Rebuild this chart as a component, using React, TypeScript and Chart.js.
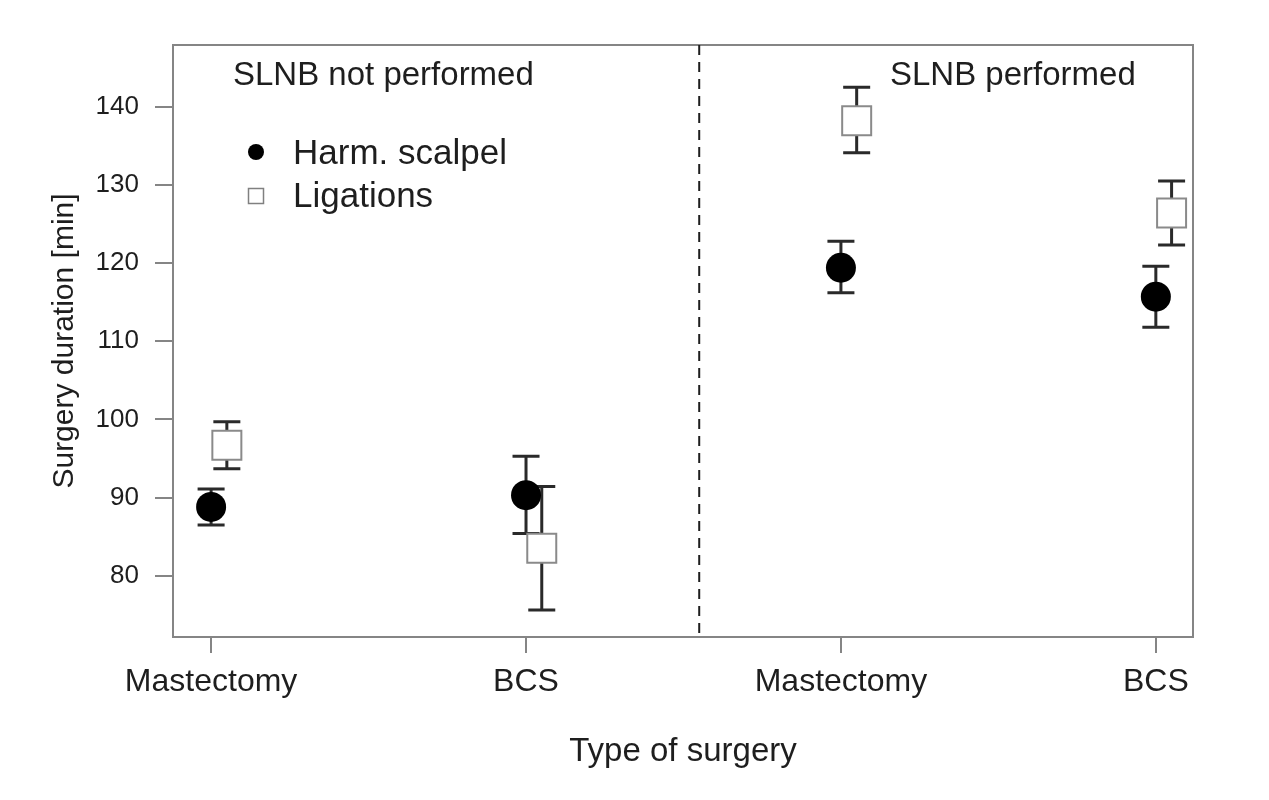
import { useEffect, useRef } from "react"
import { Chart, registerables, type Plugin } from "chart.js"

Chart.register(...registerables)

const categories = ["Mastectomy", "BCS", "Mastectomy", "BCS"]
const catPositions = [1, 2, 3, 4]
const yTicks = [80, 90, 100, 110, 120, 130, 140]

const harmMean = [88.8, 90.3, 119.4, 115.7]
const harmLow = [86.5, 85.4, 116.2, 111.8]
const harmHigh = [91.1, 95.3, 122.8, 119.6]

const ligMean = [96.7, 83.5, 138.2, 126.4]
const ligLow = [93.7, 75.6, 134.1, 122.3]
const ligHigh = [99.7, 91.4, 142.5, 130.5]

const panelTitles = ["SLNB not performed", "SLNB performed"]
const seriesNames = ["Harm. scalpel", "Ligations"]

const ligOffset = 0.05
const dividerAt = 2.55
const xMin = 0.879
const xMax = 4.118
const yMin = 72.16
const yMax = 147.9

const FONT = "'Liberation Sans', Arial, Helvetica, sans-serif"
const INK = "#1e1e1e"
const FRAME = "#858585"

const overlayPlugin: Plugin = {
  id: "overlay",
  beforeDatasetsDraw(chart) {
    const { ctx, chartArea } = chart
    const xs = chart.scales.x
    const ys = chart.scales.y
    ctx.save()

    // box round the plot
    ctx.strokeStyle = FRAME
    ctx.lineWidth = 2
    ctx.strokeRect(chartArea.left, chartArea.top, chartArea.right - chartArea.left, chartArea.bottom - chartArea.top)

    // divider between panels
    const dx = xs.getPixelForValue(dividerAt)
    ctx.strokeStyle = INK
    ctx.setLineDash([10, 7])
    ctx.beginPath()
    ctx.moveTo(dx, chartArea.top)
    ctx.lineTo(dx, chartArea.bottom)
    ctx.stroke()
    ctx.setLineDash([])

    // error bars
    const drawBar = (x: number, lo: number, hi: number) => {
      const px = xs.getPixelForValue(x)
      const pLo = ys.getPixelForValue(lo)
      const pHi = ys.getPixelForValue(hi)
      const cap = 13.5
      ctx.strokeStyle = "#2a2a2a"
      ctx.lineWidth = 3
      ctx.beginPath()
      ctx.moveTo(px, pLo)
      ctx.lineTo(px, pHi)
      ctx.moveTo(px - cap, pLo)
      ctx.lineTo(px + cap, pLo)
      ctx.moveTo(px - cap, pHi)
      ctx.lineTo(px + cap, pHi)
      ctx.stroke()
    }
    catPositions.forEach((p, i) => {
      drawBar(p, harmLow[i], harmHigh[i])
      drawBar(p + ligOffset, ligLow[i], ligHigh[i])
    })
    ctx.restore()
  },
  afterDraw(chart) {
    const { ctx, chartArea } = chart
    ctx.save()
    ctx.fillStyle = INK
    ctx.textBaseline = "alphabetic"
    ctx.textAlign = "left"

    // panel titles
    ctx.font = `33px ${FONT}`
    ctx.fillText(panelTitles[0], chartArea.left + 60, chartArea.top + 40)
    ctx.fillText(panelTitles[1], chartArea.left + 717, chartArea.top + 40)

    // legend
    const mx = chartArea.left + 83
    const tx = chartArea.left + 120
    ctx.beginPath()
    ctx.arc(mx, chartArea.top + 107, 8, 0, Math.PI * 2)
    ctx.fillStyle = "#000"
    ctx.fill()
    ctx.fillStyle = "#fff"
    ctx.fillRect(mx - 7.5, chartArea.top + 143.5, 15, 15)
    ctx.strokeStyle = "#808080"
    ctx.lineWidth = 1.5
    ctx.strokeRect(mx - 7.5, chartArea.top + 143.5, 15, 15)

    ctx.fillStyle = INK
    ctx.font = `35px ${FONT}`
    ctx.fillText(seriesNames[0], tx, chartArea.top + 119)
    ctx.fillText(seriesNames[1], tx, chartArea.top + 162)
    ctx.restore()
  },
}

export default function App() {
  const canvasRef = useRef<HTMLCanvasElement>(null)
  const chartRef = useRef<Chart | null>(null)

  useEffect(() => {
    document.body.style.margin = "0"
    if (!canvasRef.current) return
    if (chartRef.current) chartRef.current.destroy()

    chartRef.current = new Chart(canvasRef.current, {
      type: "scatter",
      data: {
        datasets: [
          {
            label: seriesNames[0],
            data: catPositions.map((p, i) => ({ x: p, y: harmMean[i] })),
            pointStyle: "circle",
            pointRadius: 15,
            pointHoverRadius: 15,
            backgroundColor: "#000",
            borderWidth: 0,
          },
          {
            label: seriesNames[1],
            data: catPositions.map((p, i) => ({ x: p + ligOffset, y: ligMean[i] })),
            pointStyle: "rect",
            pointRadius: 20.5,
            pointHoverRadius: 20.5,
            backgroundColor: "#fff",
            borderColor: "#8a8a8a",
            borderWidth: 2,
          },
        ],
      },
      options: {
        responsive: false,
        animation: false,
        devicePixelRatio: 1,
        layout: { padding: { top: 45, right: 76, left: 0, bottom: 0 } },
        plugins: {
          legend: { display: false },
          tooltip: { enabled: false },
        },
        scales: {
          x: {
            type: "linear",
            position: "bottom",
            min: xMin,
            max: xMax,
            afterBuildTicks: (s) => {
              s.ticks = catPositions.map((v) => ({ value: v }))
            },
            afterFit: (s) => {
              s.height = 163
              s.paddingLeft = 0
              s.paddingRight = 0
            },
            ticks: {
              autoSkip: false,
              maxRotation: 0,
              padding: 10,
              color: INK,
              font: { family: FONT, size: 32 },
              callback: (v) => categories[catPositions.indexOf(Number(v))] ?? "",
            },
            grid: { display: true, drawOnChartArea: false, drawTicks: true, tickLength: 16, color: FRAME, lineWidth: 2 },
            border: { display: false },
            title: {
              display: true,
              text: "Type of surgery",
              color: INK,
              font: { family: FONT, size: 33 },
              padding: { top: 0, bottom: 28 },
            },
          },
          y: {
            type: "linear",
            position: "left",
            min: yMin,
            max: yMax,
            afterBuildTicks: (s) => {
              s.ticks = yTicks.map((v) => ({ value: v }))
            },
            afterFit: (s) => {
              s.width = 173
              s.paddingTop = 0
              s.paddingBottom = 0
            },
            ticks: {
              padding: 16,
              color: INK,
              font: { family: FONT, size: 26 },
            },
            grid: { display: true, drawOnChartArea: false, drawTicks: true, tickLength: 18, color: FRAME, lineWidth: 2 },
            border: { display: false },
            title: {
              display: true,
              text: "Surgery duration [min]",
              color: INK,
              font: { family: FONT, size: 30 },
              padding: { top: 47, bottom: 0 },
            },
          },
        },
      },
      plugins: [overlayPlugin],
    })

    return () => {
      if (chartRef.current) {
        chartRef.current.destroy()
        chartRef.current = null
      }
    }
  }, [])

  return (
    <div style={{ width: 1269, height: 800, background: "#fff" }}>
      <canvas ref={canvasRef} width={1269} height={800} />
    </div>
  )
}
